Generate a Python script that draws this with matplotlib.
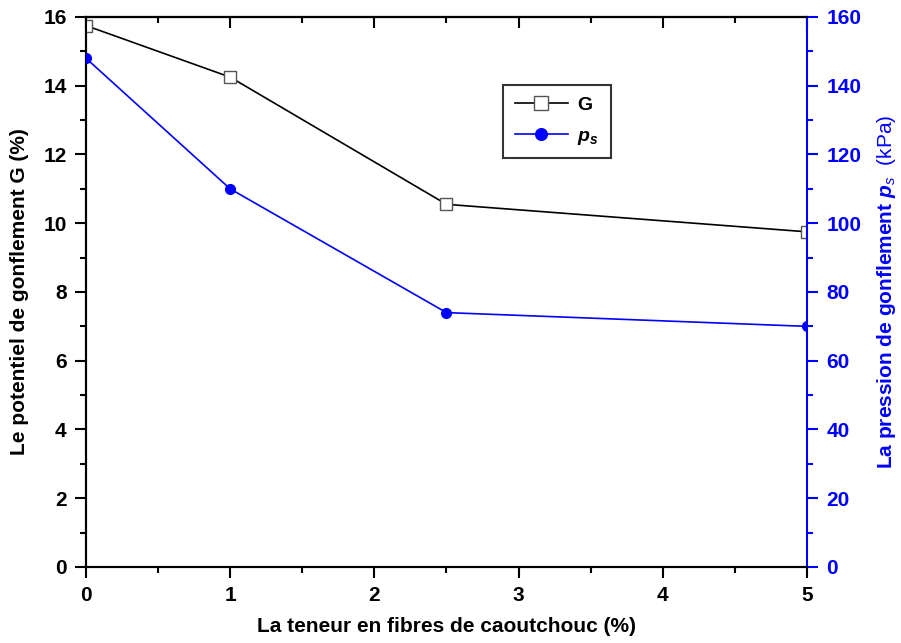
import matplotlib
matplotlib.use("Agg")
import matplotlib.pyplot as plt
from matplotlib.ticker import MultipleLocator

plt.rcParams['font.family'] = ['Liberation Sans', 'DejaVu Sans']
plt.rcParams['mathtext.fontset'] = 'custom'
plt.rcParams['mathtext.rm'] = 'Liberation Sans'
plt.rcParams['mathtext.it'] = 'Liberation Sans:italic'
plt.rcParams['mathtext.bf'] = 'Liberation Sans:bold'
plt.rcParams['mathtext.bfit'] = 'Liberation Sans:bold:italic'

fiber = [0, 1, 2.5, 5]
G = [15.75, 14.25, 10.55, 9.75]
ps = [148, 110, 74, 70]

fig = plt.figure(figsize=(9.01, 6.43), dpi=100)
ax = fig.add_axes([0.0954, 0.1182, 0.8003, 0.8554])
ax2 = ax.twinx()

ax.plot(fiber, G, color='black', lw=1.2, marker='s', ms=8, mfc='white',
        mec='#555555', mew=1.0, label='G', zorder=3)
ax2.plot(fiber, ps, color='blue', lw=1.2, marker='o', ms=7, mfc='blue',
         mec='blue', label=r'$\mathbfit{p}_{\mathbfit{s}}$', zorder=3)

ax.set_xlim(0, 5)
ax.set_ylim(0, 16)
ax2.set_ylim(0, 160)

ax.xaxis.set_major_locator(MultipleLocator(1))
ax.xaxis.set_minor_locator(MultipleLocator(0.5))
ax.yaxis.set_major_locator(MultipleLocator(2))
ax.yaxis.set_minor_locator(MultipleLocator(1))
ax2.yaxis.set_major_locator(MultipleLocator(20))
ax2.yaxis.set_minor_locator(MultipleLocator(10))

for sp in ['left', 'bottom', 'top']:
    ax.spines[sp].set_linewidth(1.5)
    ax2.spines[sp].set_linewidth(1.5)
ax2.spines['right'].set_color('blue')
ax2.spines['right'].set_linewidth(1.5)
ax.spines['right'].set_visible(False)

TS = 15
ax.tick_params(axis='both', which='major', direction='out', length=8, width=1.5,
               labelsize=TS, pad=6)
ax.tick_params(axis='both', which='minor', direction='out', length=4, width=1.5)
ax.tick_params(axis='x', which='both', top=False, labeltop=False)
for lab in ax.get_xticklabels() + ax.get_yticklabels():
    lab.set_fontweight('bold')

secx = ax.secondary_xaxis('top')
secx.xaxis.set_major_locator(MultipleLocator(1))
secx.xaxis.set_minor_locator(MultipleLocator(0.5))
secx.tick_params(axis='x', which='major', direction='in', length=8, width=1.5,
                 labeltop=False)
secx.tick_params(axis='x', which='minor', direction='in', length=4, width=1.5)
secx.spines['top'].set_linewidth(1.5)

ax2.tick_params(axis='y', which='major', direction='out', length=8, width=1.5,
                colors='blue', labelsize=TS, pad=6)
ax2.tick_params(axis='y', which='minor', direction='out', length=4, width=1.5,
                colors='blue')
for lab in ax2.get_yticklabels():
    lab.set_fontweight('bold')

LS = 15
ax.set_xlabel('La teneur en fibres de caoutchouc (%)', fontsize=LS,
              fontweight='bold', labelpad=8)
ax.set_ylabel('Le potentiel de gonflement G (%)', fontsize=LS,
              fontweight='bold', labelpad=10)
ax2.set_ylabel(r'$\mathbf{La\ pression\ de\ gonflement\ }\mathbfit{p}_{\mathit{s}}\ \ \mathrm{(kPa)}$',
               fontsize=LS, color='blue', labelpad=10)

h1, l1 = ax.get_legend_handles_labels()
h2, l2 = ax2.get_legend_handles_labels()
leg = ax2.legend(h1 + h2, l1 + l2, loc='upper left',
                 bbox_to_anchor=(0.5655, 0.894), frameon=True, fancybox=False,
                 edgecolor='black', fontsize=14, handlelength=2.7,
                 markerscale=1.2, borderpad=0.6, labelspacing=0.65,
                 handletextpad=0.5)
leg.get_frame().set_linewidth(1.5)
for t in leg.get_texts():
    t.set_fontweight('bold')

fig.savefig('out.png', dpi=100)
